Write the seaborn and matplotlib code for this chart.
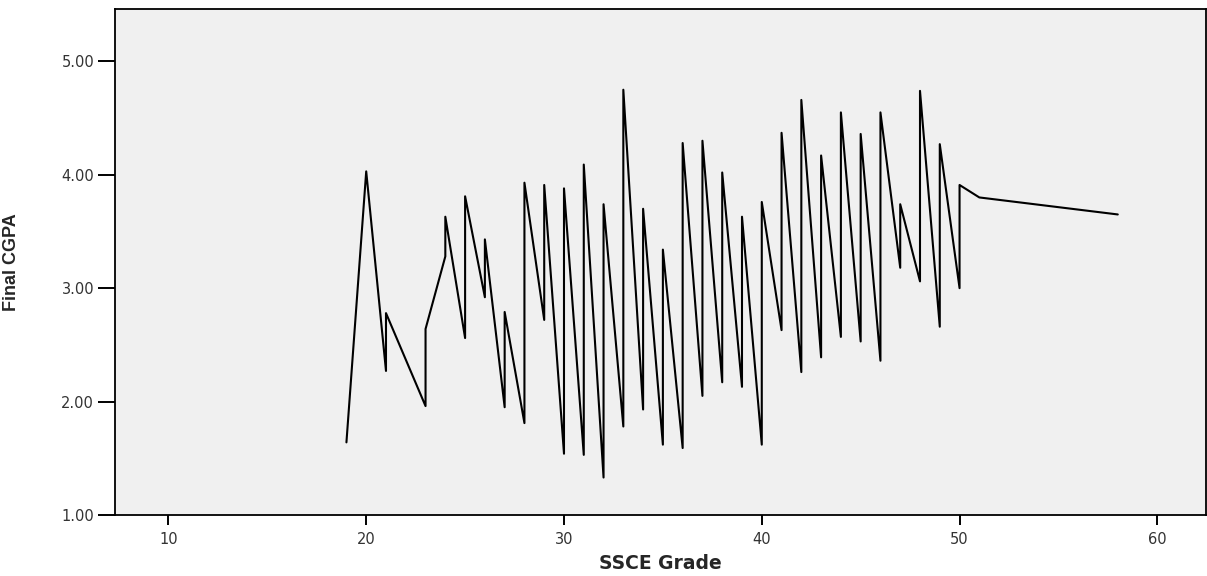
import pandas as pd
import matplotlib.pyplot as plt
import seaborn as sns

# SSCE grade vs final CGPA, points in the order the line visits them
ssce = [19, 20, 21, 21, 23, 23, 24, 24, 25, 25, 26, 26, 27, 27, 28, 28,
        29, 29, 30, 30, 31, 31, 32, 32, 33, 33, 34, 34, 35, 35, 36, 36,
        37, 37, 38, 38, 39, 39, 40, 40, 41, 41, 42, 42, 43, 43, 44, 44,
        45, 45, 46, 46, 47, 47, 48, 48, 49, 49, 50, 50, 51, 58]
cgpa = [1.64, 4.03, 2.27, 2.78, 1.96, 2.64, 3.28, 3.63, 2.56, 3.81,
        2.92, 3.43, 1.95, 2.79, 1.81, 3.93, 2.72, 3.91, 1.54, 3.88,
        1.53, 4.09, 1.33, 3.74, 1.78, 4.75, 1.93, 3.70, 1.62, 3.34,
        1.59, 4.28, 2.05, 4.30, 2.17, 4.02, 2.13, 3.63, 1.62, 3.76,
        2.63, 4.37, 2.26, 4.66, 2.39, 4.17, 2.57, 4.55, 2.53, 4.36,
        2.36, 4.55, 3.18, 3.74, 3.06, 4.74, 2.66, 4.27, 3.00, 3.91,
        3.80, 3.65]
x_ticks = [10, 20, 30, 40, 50, 60]
y_ticks = [1.0, 2.0, 3.0, 4.0, 5.0]

df = pd.DataFrame({"SSCE Grade": ssce, "Final CGPA": cgpa})

sns.set_style("ticks")
plt.rcParams["font.family"] = ["DejaVu Sans"]

fig = plt.figure(figsize=(12.07, 5.76), dpi=100)
ax = fig.add_axes([0.0953, 0.106, 0.9037, 0.878])
ax.set_facecolor("#f0f0f0")

sns.lineplot(data=df, x="SSCE Grade", y="Final CGPA", sort=False,
             estimator=None, color="black", linewidth=1.5, ax=ax)

ax.set_xlim(7.3, 62.45)
ax.set_ylim(1.0, 5.46)
ax.set_xticks(x_ticks)
ax.set_yticks(y_ticks)
ax.set_yticklabels([f"{v:.2f}" for v in y_ticks])
ax.tick_params(axis="both", direction="out", width=1.4, color="black",
               labelcolor="#333333", labelsize=10.5)
ax.tick_params(axis="y", length=12, pad=3)
ax.tick_params(axis="x", length=7, pad=5)
for s in ax.spines.values():
    s.set_color("black")
    s.set_linewidth(1.3)

ax.set_xlabel("SSCE Grade", fontsize=13.5, fontweight="bold")
ax.xaxis.set_label_coords(0.5, -0.077)
ax.set_ylabel("Final CGPA", fontsize=13, fontweight="bold",
              family=["Liberation Sans", "DejaVu Sans"])
ax.yaxis.set_label_coords(-0.087, 0.5)

fig.savefig("out.png", dpi=100)
plt.close(fig)
